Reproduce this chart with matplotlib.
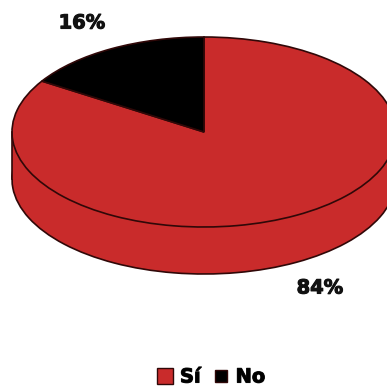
import matplotlib
matplotlib.use("Agg")
import matplotlib.pyplot as plt
import matplotlib.patheffects as pe
from matplotlib.lines import Line2D
from matplotlib.patches import Rectangle

labels = ["Sí", "No"]
values = [84, 16]
pct_labels = ["84%", "16%"]
colors = ["#c92b2b", "#000000"]
edge = "#300808"
marker_sizes = [11.5, 8.6]

W, H = 387, 388
cx, cy = 204, 132   # centre of top ellipse, pixels
rx, ry = 192, 95
depth = 47 / ry

fig = plt.figure(figsize=(W / 100, H / 100), dpi=100)
ax = fig.add_axes([0, 0, 1, 1])

# bottom of the disc, then the wall, then the top
ax.pie(values, colors=[colors[0], colors[0]], startangle=90, counterclock=False,
       center=(0, -depth), wedgeprops=dict(edgecolor=edge, linewidth=1.2))
ax.add_patch(Rectangle((-1, -depth), 2, depth, facecolor=colors[0], edgecolor="none", zorder=2))
ax.plot([-1, -1], [0, -depth], color=edge, lw=1.2, zorder=2)
ax.plot([1, 1], [0, -depth], color=edge, lw=1.2, zorder=2)
wedges, _ = ax.pie(values, colors=colors, startangle=90, counterclock=False,
                   wedgeprops=dict(edgecolor=edge, linewidth=1.2, zorder=3))

ax.set_aspect("auto")
ax.set_xlim((0 - cx) / rx, (W - cx) / rx)
ax.set_ylim((cy - H) / ry, cy / ry)
ax.axis("off")

heavy = [pe.withStroke(linewidth=0.8, foreground="#111111")]
fig.text(320 / W, 1 - 288 / H, pct_labels[0], ha="center", va="center",
         fontsize=14, fontweight="bold", color="#111111", path_effects=heavy)
fig.text(82 / W, 1 - 23 / H, pct_labels[1], ha="center", va="center",
         fontsize=14, fontweight="bold", color="#111111", path_effects=heavy)

handles = [Line2D([], [], ls="none", marker="s", markersize=s, markerfacecolor=c,
                  markeredgecolor=edge, markeredgewidth=1)
           for s, c in zip(marker_sizes, colors)]
leg = fig.legend(handles, labels, ncol=2, loc="center", bbox_to_anchor=(211 / W, 1 - 377 / H),
                 frameon=False, prop=dict(size=14, weight="bold"), handlelength=0.9,
                 handletextpad=0.3, columnspacing=0.6, borderpad=0)
for t in leg.get_texts():
    t.set_path_effects(heavy)

fig.savefig("out.png", dpi=100)
